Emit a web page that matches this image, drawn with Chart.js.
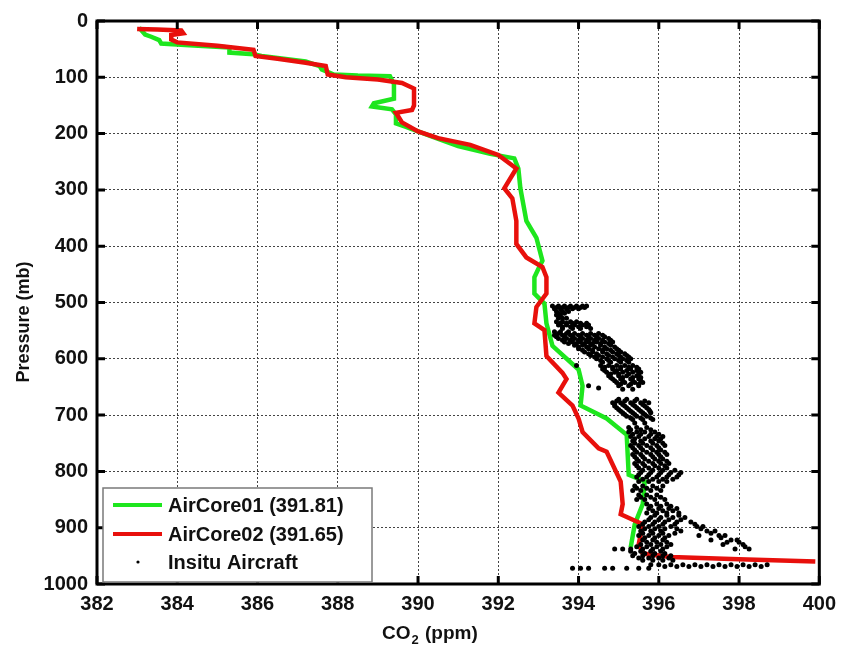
<!DOCTYPE html>
<html>
<head>
<meta charset="utf-8">
<script src="https://cdn.jsdelivr.net/npm/chart.js@4.4.1/dist/chart.umd.min.js"></script>
<style>
  html,body{margin:0;padding:0;background:#fff;}
  #wrap{width:844px;height:650px;}
</style>
</head>
<body>
<div id="wrap"><canvas id="c" width="844" height="650"></canvas></div>
<script>
// AXES
const xTicks=[382,384,386,388,390,392,394,396,398,400];
const yTicks=[0,100,200,300,400,500,600,700,800,900,1000];

// AIRCORE01 (green) profile
const ac1CO2=[383.05,383.1,383.2,383.35,383.55,383.6,384.3,385.3,385.3,385.9,386.1,387.2,387.55,387.6,387.9,388.5,389.3,389.4,389.4,388.9,388.85,389.35,389.45,389.45,389.7,390.3,391.0,391.8,392.4,392.5,392.55,392.7,392.95,393.1,393.0,392.9,392.9,393.15,393.2,393.35,394.0,394.1,394.05,394.7,395.2,395.25,395.65,395.6,395.4,395.3];
const ac1P  =[12,16,24,28,34,40,43,47,56,59,62,72,80,86,95,97,98,112,138,146,152,157,166,182,188,204,222,236,244,262,297,355,385,426,440,455,484,502,537,577,619,648,683,706,735,806,818,858,894,935];

// AIRCORE02 (red) profile
const ac2CO2=[383.0,383.5,384.1,384.15,383.85,383.85,384.0,385.0,385.9,385.95,386.5,387.2,387.7,387.75,388.2,389.0,389.6,389.9,389.9,389.85,389.45,389.6,390.0,390.5,391.3,392.0,392.45,392.15,392.35,392.45,392.45,392.7,393.1,393.2,393.2,392.95,392.9,393.15,393.2,393.6,393.7,393.5,393.85,394.0,394.1,394.5,394.7,395.05,395.1,395.05,395.6,395.5,395.6,396.3,398.0,399.9];
const ac2P  =[14,15,17,22,25,33,38,44,51,62,67,74,80,95,100,104,110,120,150,158,163,180,196,208,220,238,262,297,315,355,396,420,437,455,484,508,537,549,595,625,636,660,683,706,730,759,765,818,858,876,894,929,946,952,956,960];

// INSITU AIRCRAFT samples [CO2, pressure]
const insitu=[
 [393.35,506],[393.5,506],[393.65,506],[393.8,506],[393.95,506],[394.1,506],[394.2,506],
 [393.45,509],[393.6,509],[393.75,509],[393.9,509],[394.05,509],[394.15,509],
 [393.4,511],[393.55,511],[393.7,511],[393.85,511],[394.0,511],
 [393.45,516],[393.6,516],[393.75,516],[393.5,519],[393.65,519],
 [393.45,522],[393.55,522],
 [393.5,528],[393.6,528],[393.7,528],
 [393.45,534],[393.6,534],[393.8,534],[393.95,534],
 [393.55,537],[393.7,537],[393.85,537],[394.05,537],[394.2,537],
 [393.5,540],[393.7,540],[393.9,540],[394.1,540],[394.25,540],
 [393.6,543],[393.8,543],[394.0,543],[394.2,543],
 [393.6,546],[393.85,546],[394.05,546],[394.3,546],
 [393.4,552],[393.55,552],[393.75,552],
 [393.5,555],[393.7,555],[393.9,555],[394.1,555],[394.3,555],[394.5,555],
 [393.4,558],[393.6,558],[393.8,558],[394.0,558],[394.2,558],[394.4,558],[394.6,558],
 [393.45,561],[393.65,561],[393.85,561],[394.05,561],[394.25,561],[394.45,561],[394.65,561],
 [393.5,564],[393.7,564],[393.9,564],[394.1,564],[394.3,564],[394.5,564],[394.75,564],
 [393.6,567],[393.8,567],[394.0,567],[394.2,567],[394.4,567],[394.6,567],[394.8,567],
 [393.65,570],[393.85,570],[394.05,570],[394.25,570],[394.45,570],[394.65,570],[394.85,570],
 [393.75,573],[393.95,573],[394.15,573],[394.35,573],[394.55,573],[394.75,573],
 [393.9,576],[394.1,576],[394.3,576],[394.55,576],[394.8,576],
 [394.0,579],[394.2,579],[394.4,579],[394.65,579],[394.9,579],
 [394.0,582],[394.25,582],[394.5,582],[394.7,582],[394.95,582],
 [394.1,585],[394.35,585],[394.6,585],[394.8,585],[395.0,585],
 [394.15,588],[394.35,588],[394.6,588],[394.85,588],[395.05,588],
 [394.25,591],[394.45,591],[394.7,591],[394.95,591],[395.15,591],
 [394.3,594],[394.5,594],[394.75,594],[395.0,594],[395.2,594],
 [394.4,597],[394.6,597],[394.85,597],[395.05,597],[395.25,597],
 [394.45,600],[394.7,600],[394.9,600],[395.1,600],[395.3,600],
 [394.55,603],[394.75,603],[395.0,603],[395.2,603],
 [394.6,606],[394.8,606],[395.05,606],[395.25,606],
 [393.95,612],[394.55,612],[394.75,612],[394.95,612],[395.15,612],[395.35,612],
 [394.65,615],[394.85,615],[395.05,615],[395.25,615],[395.45,615],
 [394.6,618],[394.85,618],[395.05,618],[395.3,618],[395.5,618],
 [394.65,621],[394.95,621],[395.2,621],[395.45,621],
 [394.7,624],[394.9,624],[395.1,624],[395.35,624],[395.55,624],
 [394.8,627],[395.0,627],[395.25,627],[395.5,627],
 [394.75,630],[395.0,630],[395.2,630],[395.45,630],
 [394.8,633],[395.1,633],[395.35,633],[395.55,633],
 [394.85,636],[395.05,636],[395.3,636],[395.5,636],
 [394.9,639],[395.1,639],[395.35,639],[395.55,639],
 [394.95,642],[395.15,642],[395.4,642],[395.6,642],
 [395.05,645],[395.3,645],[395.5,645],
 [394.25,648],[395.0,648],[395.25,648],[395.5,648],
 [394.5,652],[395.1,654],[395.35,654],
 [395.0,672],[395.2,672],[395.45,672],
 [394.95,675],[395.15,675],[395.4,675],[395.65,675],
 [394.85,678],[395.05,678],[395.3,678],[395.55,678],[395.75,678],
 [394.9,681],[395.1,681],[395.35,681],[395.6,681],
 [394.9,684],[395.15,684],[395.4,684],[395.65,684],
 [394.95,687],[395.2,687],[395.45,687],[395.7,687],
 [395.0,690],[395.25,690],[395.5,690],[395.75,690],
 [395.05,693],[395.3,693],[395.55,693],[395.78,693],
 [395.1,696],[395.35,696],[395.6,696],[395.8,696],
 [395.15,699],[395.4,699],[395.65,699],
 [395.2,702],[395.45,702],[395.7,702],
 [395.3,705],[395.55,705],[395.8,705],
 [395.35,708],[395.6,708],[395.85,708],
 [395.4,714],[395.65,714],
 [395.25,722],[395.45,722],[395.7,722],
 [395.3,726],[395.55,726],[395.8,726],
 [395.25,730],[395.45,730],[395.65,730],[395.9,730],
 [395.35,734],[395.55,734],[395.8,734],[396.0,734],
 [395.3,738],[395.5,738],[395.75,738],[395.95,738],[396.1,738],
 [395.4,742],[395.65,742],[395.9,742],[396.05,742],
 [395.35,746],[395.55,746],[395.8,746],[396.0,746],
 [395.4,750],[395.6,750],[395.85,750],[396.1,750],
 [395.3,754],[395.5,754],[395.7,754],[395.95,754],[396.15,754],
 [395.35,758],[395.55,758],[395.8,758],[396.0,758],
 [395.4,762],[395.6,762],[395.85,762],[396.05,762],
 [395.45,766],[395.7,766],[395.95,766],[396.15,766],
 [395.35,770],[395.55,770],[395.8,770],[396.0,770],[396.2,770],
 [395.4,774],[395.6,774],[395.85,774],[396.05,774],
 [395.45,778],[395.65,778],[395.9,778],[396.1,778],
 [395.5,782],[395.75,782],[396.0,782],[396.2,782],
 [395.4,786],[395.6,786],[395.85,786],[396.05,786],[396.25,786],
 [395.45,790],[395.65,790],[395.9,790],[396.15,790],
 [395.5,794],[395.75,794],[396.0,794],[396.2,794],
 [395.6,798],[395.85,798],[396.1,798],[396.4,798],
 [395.55,802],[395.8,802],[396.05,802],[396.3,802],[396.55,802],
 [395.5,806],[395.75,806],[396.0,806],[396.25,806],[396.5,806],
 [395.45,810],[395.7,810],[395.95,810],[396.2,810],[396.45,810],
 [395.6,814],[395.85,814],[396.1,814],[396.35,814],
 [395.5,818],[395.75,818],[396.0,818],[396.2,818],
 [395.4,826],[395.6,826],[395.85,826],[396.1,826],
 [395.45,830],[395.7,830],[395.95,830],
 [395.35,834],[395.55,834],[395.8,834],[396.05,834],
 [395.5,842],[395.7,842],[395.95,842],
 [395.55,846],[395.8,846],[396.05,846],
 [395.45,850],[395.65,850],[395.9,850],[396.15,850],
 [395.7,858],[395.95,858],[396.2,858],
 [395.8,862],[396.05,862],[396.3,862],
 [395.75,866],[396.0,866],[396.25,866],[396.45,866],
 [395.85,870],[396.1,870],[396.35,870],
 [395.7,874],[395.95,874],[396.2,874],[396.5,874],
 [395.9,878],[396.2,878],[396.5,878],
 [395.8,882],[396.05,882],[396.35,882],[396.65,882],
 [395.75,886],[396.0,886],[396.25,886],[396.55,886],
 [395.65,890],[395.9,890],[396.15,890],[396.45,890],[396.8,890],
 [395.6,894],[395.85,894],[396.1,894],[396.4,894],[396.9,894],
 [395.5,898],[395.75,898],[396.0,898],[396.3,898],[396.95,898],[397.1,898],
 [395.65,902],[395.9,902],[396.15,902],[396.45,902],[397.05,902],
 [395.55,906],[395.8,906],[396.05,906],[396.55,906],[397.2,906],[397.4,906],
 [395.6,910],[395.85,910],[396.1,910],[396.4,910],[397.3,910],
 [395.5,914],[395.75,914],[396.0,914],[396.25,914],[397.0,914],[397.5,914],[397.65,914],
 [395.65,918],[395.9,918],[396.15,918],[397.55,918],
 [395.6,922],[395.85,922],[396.1,922],[397.3,922],[397.8,922],[397.95,922],
 [395.7,926],[395.95,926],[396.2,926],[397.7,926],[398.0,926],
 [395.55,930],[395.8,930],[396.05,930],[396.3,930],[397.6,930],[398.1,930],
 [395.45,934],[395.7,934],[395.95,934],[396.2,934],[398.15,934],
 [394.9,938],[395.1,938],[395.3,938],[395.6,938],[395.85,938],[396.1,938],[397.9,938],[398.25,938],
 [395.3,942],[395.55,942],[395.8,942],[396.05,942],
 [395.4,946],[395.65,946],[395.9,946],[396.15,946],
 [395.35,950],[395.6,950],[395.85,950],[396.1,950],[396.3,950],
 [395.5,954],[395.75,954],[396.0,954],[396.25,954],
 [395.6,958],[395.85,958],[396.1,958],[396.35,958],
 [395.8,966],[396.0,966],[396.3,966],[396.6,966],[396.9,966],[397.2,966],[397.5,966],[397.8,966],[398.1,966],[398.4,966],[398.7,966],
 [396.15,969],[396.45,969],[396.75,969],[397.05,969],[397.35,969],[397.65,969],[397.95,969],[398.25,969],[398.55,969],
 [393.85,972],[394.05,972],[394.25,972],[394.65,972],[394.85,972],[395.2,972],[395.5,972],[395.75,972]
];

const labels=["AirCore01 (391.81)","AirCore02 (391.65)","Insitu Aircraft"];
const FONT="'Liberation Sans', Arial, sans-serif";

function pts(xs,ys){ return xs.map((x,i)=>({x:x,y:ys[i]})); }

// inward ticks, frame, axis titles and legend (MATLAB look)
const frame={
  id:'frame',
  afterDraw(chart){
    const {ctx,chartArea:a,scales:{x,y}}=chart;
    ctx.save();
    ctx.strokeStyle='#000';
    ctx.lineWidth=3;
    const L=8;
    xTicks.forEach(v=>{
      const px=x.getPixelForValue(v);
      ctx.beginPath();
      ctx.moveTo(px,a.bottom);ctx.lineTo(px,a.bottom-L);
      ctx.moveTo(px,a.top);ctx.lineTo(px,a.top+L);
      ctx.stroke();
    });
    yTicks.forEach(v=>{
      const py=y.getPixelForValue(v);
      ctx.beginPath();
      ctx.moveTo(a.left,py);ctx.lineTo(a.left+L,py);
      ctx.moveTo(a.right,py);ctx.lineTo(a.right-L,py);
      ctx.stroke();
    });
    ctx.strokeRect(a.left,a.top,a.right-a.left,a.bottom-a.top);

    // axis titles
    ctx.fillStyle='#111';
    ctx.textBaseline='alphabetic';
    ctx.textAlign='left';
    ctx.font='bold 19px '+FONT;
    let tx=382, ty=639;
    ctx.fillText('CO',tx,ty); tx+=ctx.measureText('CO').width;
    ctx.font='bold 13px '+FONT;
    ctx.fillText('2',tx+1,ty+5); tx+=ctx.measureText('2').width+2;
    ctx.font='bold 19px '+FONT;
    ctx.fillText(' (ppm)',tx,ty);

    ctx.save();
    ctx.translate(29,322);
    ctx.rotate(-Math.PI/2);
    ctx.textAlign='center';
    ctx.font='bold 18px '+FONT;
    ctx.fillText('Pressure (mb)',0,0);
    ctx.restore();

    // legend box
    const bx=a.left+6,by=488,bw=269,bh=94;
    ctx.fillStyle='#fff';
    ctx.fillRect(bx,by,bw,bh);
    ctx.lineWidth=1.5;
    ctx.strokeStyle='#7a7a7a';
    ctx.strokeRect(bx,by,bw,bh);
    ctx.font='bold 20px '+FONT;
    ctx.textBaseline='middle';
    ctx.textAlign='left';
    const rows=[505,534,562];
    chart.data.datasets.forEach((ds,i)=>{
      const ry=rows[i];
      if(ds.showLine){
        ctx.strokeStyle=ds.borderColor;
        ctx.lineWidth=4;
        ctx.beginPath();ctx.moveTo(bx+10,ry);ctx.lineTo(bx+59,ry);ctx.stroke();
      }else{
        ctx.fillStyle='#000';
        ctx.beginPath();ctx.arc(bx+35,ry,1.6,0,Math.PI*2);ctx.fill();
      }
      ctx.fillStyle='#111';
      ctx.fillText(ds.label,bx+65,ry+1);
    });
    ctx.restore();
  }
};

new Chart(document.getElementById('c'),{
  type:'scatter',
  data:{
    datasets:[
      {label:labels[0],data:pts(ac1CO2,ac1P),showLine:true,borderColor:'#1ee61e',borderWidth:4.5,pointRadius:0,order:3},
      {label:labels[1],data:pts(ac2CO2,ac2P),showLine:true,borderColor:'#e8100c',borderWidth:4.5,pointRadius:0,order:2},
      {label:labels[2],data:insitu.map(d=>({x:d[0],y:d[1]})),showLine:false,pointRadius:2.5,pointBackgroundColor:'#000',pointBorderWidth:0,order:1}
    ]
  },
  options:{
    responsive:false,
    animation:false,
    layout:{padding:{top:13,right:23,left:0,bottom:0}},
    plugins:{legend:{display:false},tooltip:{enabled:false}},
    scales:{
      x:{
        type:'linear',min:382,max:400,
        afterBuildTicks(s){ s.ticks=xTicks.map(v=>({value:v})); },
        afterFit(s){ s.height=66; },
        ticks:{font:{family:FONT,size:20,weight:'bold'},color:'#111',padding:8,callback:v=>String(v)},
        grid:{color:'#444',lineWidth:1,drawTicks:false},
        border:{display:false,dash:[2,2]}
      },
      y:{
        type:'linear',min:0,max:1000,reverse:true,
        afterBuildTicks(s){ s.ticks=yTicks.map(v=>({value:v})); },
        afterFit(s){ s.width=97; },
        ticks:{font:{family:FONT,size:20,weight:'bold'},color:'#111',padding:9,callback:v=>String(v)},
        grid:{color:'#444',lineWidth:1,drawTicks:false},
        border:{display:false,dash:[2,2]}
      }
    }
  },
  plugins:[frame]
});
</script>
</body>
</html>
